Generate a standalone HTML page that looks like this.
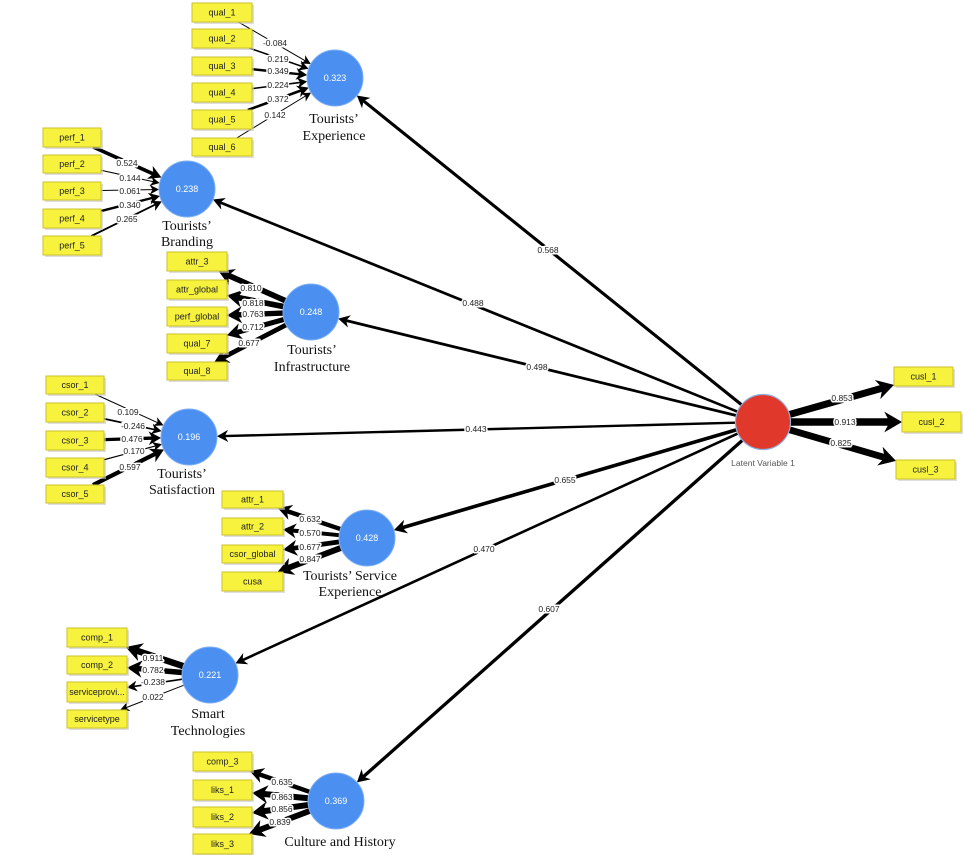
<!DOCTYPE html>
<html>
<head>
<meta charset="utf-8">
<style>
  html,body{margin:0;padding:0;background:#fff;}
  svg{display:block;}
  .bx{fill:#f6f23e;stroke:#cdc22a;stroke-width:1;}
  .sh{fill:#c8c8c8;opacity:.6;}
  .bt{font-family:"Liberation Sans",sans-serif;font-size:9px;fill:#222;text-anchor:middle;}
  .lb{font-family:"Liberation Sans",sans-serif;font-size:8.5px;fill:#222;text-anchor:middle;paint-order:stroke;stroke:#fff;stroke-width:3px;stroke-linejoin:round;}
  .nt{font-family:"Liberation Serif",serif;font-size:14px;fill:#111;text-anchor:middle;}
  .ct{font-family:"Liberation Sans",sans-serif;font-size:9px;fill:#fff;text-anchor:middle;}
  .blue{fill:#4b8ff0;stroke:#7fb0f5;stroke-width:1;}
</style>
</head>
<body>
<svg id="s" width="963" height="855" viewBox="0 0 963 855" xmlns="http://www.w3.org/2000/svg">
<g id="lines"></g>
<g id="lblbg"></g>

<!-- edge labels -->
<g id="labels">
<text class="lb" x="275" y="46">-0.084</text>
<text class="lb" x="278" y="62">0.219</text>
<text class="lb" x="278" y="74">0.349</text>
<text class="lb" x="278" y="88">0.224</text>
<text class="lb" x="278" y="102">0.372</text>
<text class="lb" x="275" y="118">0.142</text>

<text class="lb" x="127" y="166">0.524</text>
<text class="lb" x="130" y="181">0.144</text>
<text class="lb" x="130" y="194">0.061</text>
<text class="lb" x="130" y="208">0.340</text>
<text class="lb" x="127" y="222">0.265</text>

<text class="lb" x="251" y="291">0.810</text>
<text class="lb" x="253" y="306">0.818</text>
<text class="lb" x="253" y="317">0.763</text>
<text class="lb" x="253" y="330">0.712</text>
<text class="lb" x="249" y="346">0.677</text>

<text class="lb" x="128" y="415">0.109</text>
<text class="lb" x="133" y="429">-0.246</text>
<text class="lb" x="132" y="442">0.476</text>
<text class="lb" x="134" y="454">0.170</text>
<text class="lb" x="130" y="470">0.597</text>

<text class="lb" x="310" y="522">0.632</text>
<text class="lb" x="310" y="536">0.570</text>
<text class="lb" x="310" y="550">0.677</text>
<text class="lb" x="310" y="562">0.847</text>

<text class="lb" x="153" y="661">0.911</text>
<text class="lb" x="153" y="673">0.782</text>
<text class="lb" x="153" y="685">-0.238</text>
<text class="lb" x="153" y="700">0.022</text>

<text class="lb" x="282" y="785">0.635</text>
<text class="lb" x="282" y="800">0.863</text>
<text class="lb" x="282" y="812">0.856</text>
<text class="lb" x="280" y="825">0.839</text>

<text class="lb" x="842" y="401">0.853</text>
<text class="lb" x="845" y="425">0.913</text>
<text class="lb" x="841" y="446">0.825</text>

<text class="lb" x="548" y="253">0.568</text>
<text class="lb" x="473" y="306">0.488</text>
<text class="lb" x="537" y="370">0.498</text>
<text class="lb" x="476" y="432">0.443</text>
<text class="lb" x="565" y="483">0.655</text>
<text class="lb" x="484" y="552">0.470</text>
<text class="lb" x="549" y="612">0.607</text>
</g>

<!-- circles -->
<g>
<circle class="blue" cx="335" cy="78" r="28"/><text class="ct" x="335" y="81">0.323</text>
<circle class="blue" cx="187" cy="189" r="28"/><text class="ct" x="187" y="192">0.238</text>
<circle class="blue" cx="311" cy="312" r="28"/><text class="ct" x="311" y="315">0.248</text>
<circle class="blue" cx="189" cy="437" r="28"/><text class="ct" x="189" y="440">0.196</text>
<circle class="blue" cx="367" cy="538" r="28"/><text class="ct" x="367" y="541">0.428</text>
<circle class="blue" cx="210" cy="675" r="28"/><text class="ct" x="210" y="678">0.221</text>
<circle class="blue" cx="336" cy="801" r="28"/><text class="ct" x="336" y="804">0.369</text>
<circle cx="763" cy="422" r="27.5" fill="#e0382b" stroke="#8fb0dc" stroke-width="1.2"/>
<text x="763" y="466" font-family="Liberation Sans, sans-serif" font-size="8.5" fill="#555" text-anchor="middle">Latent Variable 1</text>
</g>

<!-- node names -->
<g>
<text class="nt" x="334" y="123">Tourists’</text>
<text class="nt" x="334" y="140">Experience</text>
<text class="nt" x="187" y="230">Tourists’</text>
<text class="nt" x="187" y="246">Branding</text>
<text class="nt" x="312" y="354">Tourists’</text>
<text class="nt" x="312" y="371">Infrastructure</text>
<text class="nt" x="182" y="478">Tourists’</text>
<text class="nt" x="182" y="494">Satisfaction</text>
<text class="nt" x="350" y="580">Tourists’ Service</text>
<text class="nt" x="350" y="596">Experience</text>
<text class="nt" x="208" y="718">Smart</text>
<text class="nt" x="208" y="735">Technologies</text>
<text class="nt" x="340" y="846">Culture and History</text>
</g>

<!-- boxes -->
<g>
<rect class="sh" x="194" y="5" width="60" height="19"/><rect class="bx" x="192" y="3" width="60" height="19"/><text class="bt" x="222" y="15.5">qual_1</text>
<rect class="sh" x="194" y="31" width="60" height="19"/><rect class="bx" x="192" y="29" width="60" height="19"/><text class="bt" x="222" y="41.5">qual_2</text>
<rect class="sh" x="194" y="59" width="60" height="18"/><rect class="bx" x="192" y="57" width="60" height="18"/><text class="bt" x="222" y="69">qual_3</text>
<rect class="sh" x="194" y="85" width="60" height="19"/><rect class="bx" x="192" y="83" width="60" height="19"/><text class="bt" x="222" y="95.5">qual_4</text>
<rect class="sh" x="194" y="112" width="60" height="19"/><rect class="bx" x="192" y="110" width="60" height="19"/><text class="bt" x="222" y="122.5">qual_5</text>
<rect class="sh" x="194" y="140" width="60" height="18"/><rect class="bx" x="192" y="138" width="60" height="18"/><text class="bt" x="222" y="150">qual_6</text>

<rect class="sh" x="45" y="130" width="58" height="19"/><rect class="bx" x="43" y="128" width="58" height="19"/><text class="bt" x="72" y="140.5">perf_1</text>
<rect class="sh" x="45" y="157" width="58" height="18"/><rect class="bx" x="43" y="155" width="58" height="18"/><text class="bt" x="72" y="167">perf_2</text>
<rect class="sh" x="45" y="184" width="58" height="18"/><rect class="bx" x="43" y="182" width="58" height="18"/><text class="bt" x="72" y="194">perf_3</text>
<rect class="sh" x="45" y="211" width="58" height="19"/><rect class="bx" x="43" y="209" width="58" height="19"/><text class="bt" x="72" y="221.5">perf_4</text>
<rect class="sh" x="45" y="238" width="58" height="19"/><rect class="bx" x="43" y="236" width="58" height="19"/><text class="bt" x="72" y="248.5">perf_5</text>

<rect class="sh" x="169" y="254" width="60" height="19"/><rect class="bx" x="167" y="252" width="60" height="19"/><text class="bt" x="197" y="264.5">attr_3</text>
<rect class="sh" x="169" y="282" width="60" height="19"/><rect class="bx" x="167" y="280" width="60" height="19"/><text class="bt" x="197" y="292.5">attr_global</text>
<rect class="sh" x="169" y="309" width="60" height="19"/><rect class="bx" x="167" y="307" width="60" height="19"/><text class="bt" x="197" y="319.5">perf_global</text>
<rect class="sh" x="169" y="336" width="60" height="19"/><rect class="bx" x="167" y="334" width="60" height="19"/><text class="bt" x="197" y="346.5">qual_7</text>
<rect class="sh" x="169" y="364" width="60" height="18"/><rect class="bx" x="167" y="362" width="60" height="18"/><text class="bt" x="197" y="374">qual_8</text>

<rect class="sh" x="48" y="378" width="58" height="18"/><rect class="bx" x="46" y="376" width="58" height="18"/><text class="bt" x="75" y="388">csor_1</text>
<rect class="sh" x="48" y="405" width="58" height="19"/><rect class="bx" x="46" y="403" width="58" height="19"/><text class="bt" x="75" y="415.5">csor_2</text>
<rect class="sh" x="48" y="433" width="58" height="19"/><rect class="bx" x="46" y="431" width="58" height="19"/><text class="bt" x="75" y="443.5">csor_3</text>
<rect class="sh" x="48" y="460" width="58" height="19"/><rect class="bx" x="46" y="458" width="58" height="19"/><text class="bt" x="75" y="470.5">csor_4</text>
<rect class="sh" x="48" y="487" width="58" height="18"/><rect class="bx" x="46" y="485" width="58" height="18"/><text class="bt" x="75" y="497">csor_5</text>

<rect class="sh" x="224" y="493" width="61" height="17"/><rect class="bx" x="222" y="491" width="61" height="17"/><text class="bt" x="252.5" y="502.5">attr_1</text>
<rect class="sh" x="224" y="520" width="61" height="17"/><rect class="bx" x="222" y="518" width="61" height="17"/><text class="bt" x="252.5" y="529.5">attr_2</text>
<rect class="sh" x="224" y="547" width="61" height="18"/><rect class="bx" x="222" y="545" width="61" height="18"/><text class="bt" x="252.5" y="557">csor_global</text>
<rect class="sh" x="224" y="574" width="61" height="19"/><rect class="bx" x="222" y="572" width="61" height="19"/><text class="bt" x="252.5" y="584.5">cusa</text>

<rect class="sh" x="69" y="630" width="60" height="19"/><rect class="bx" x="67" y="628" width="60" height="19"/><text class="bt" x="97" y="640.5">comp_1</text>
<rect class="sh" x="69" y="658" width="60" height="18"/><rect class="bx" x="67" y="656" width="60" height="18"/><text class="bt" x="97" y="668">comp_2</text>
<rect class="sh" x="69" y="684" width="60" height="20"/><rect class="bx" x="67" y="682" width="60" height="20"/><text class="bt" x="97" y="695" font-size="8.5">serviceprovi...</text>
<rect class="sh" x="69" y="712" width="60" height="18"/><rect class="bx" x="67" y="710" width="60" height="18"/><text class="bt" x="97" y="722">servicetype</text>

<rect class="sh" x="195" y="754" width="59" height="19"/><rect class="bx" x="193" y="752" width="59" height="19"/><text class="bt" x="222.5" y="764.5">comp_3</text>
<rect class="sh" x="195" y="782" width="59" height="20"/><rect class="bx" x="193" y="780" width="59" height="20"/><text class="bt" x="222.5" y="793">liks_1</text>
<rect class="sh" x="195" y="809" width="59" height="20"/><rect class="bx" x="193" y="807" width="59" height="20"/><text class="bt" x="222.5" y="820">liks_2</text>
<rect class="sh" x="195" y="836" width="59" height="20"/><rect class="bx" x="193" y="834" width="59" height="20"/><text class="bt" x="222.5" y="847">liks_3</text>

<rect class="sh" x="896" y="369" width="59" height="19"/><rect class="bx" x="894" y="367" width="59" height="19"/><text class="bt" x="923.5" y="379.5">cusl_1</text>
<rect class="sh" x="904" y="414" width="59" height="20"/><rect class="bx" x="902" y="412" width="59" height="20"/><text class="bt" x="931.5" y="425">cusl_2</text>
<rect class="sh" x="898" y="462" width="59" height="19"/><rect class="bx" x="896" y="460" width="59" height="19"/><text class="bt" x="925.5" y="472.5">cusl_3</text>
</g>
</svg>

<script>
(function(){
var NS="http://www.w3.org/2000/svg";
var g=document.getElementById("lines");
var C={E:[335,78],B:[187,189],I:[311,312],S:[189,437],SE:[367,538],ST:[210,675],C:[336,801],R:[763,422]};
function rad(k){return k==="R"?27.5:28;}
var boxes=[
[192,3,60,19,'E',-0.084,1],[192,29,60,19,'E',0.219,1],[192,57,60,18,'E',0.349,1],
[192,83,60,19,'E',0.224,1],[192,110,60,19,'E',0.372,1],[192,138,60,18,'E',0.142,1],
[43,128,58,19,'B',0.524,1],[43,155,58,18,'B',0.144,1],[43,182,58,18,'B',0.061,1],
[43,209,58,19,'B',0.340,1],[43,236,58,19,'B',0.265,1],
[167,252,60,19,'I',0.810,0],[167,280,60,19,'I',0.818,0],[167,307,60,19,'I',0.763,0],
[167,334,60,19,'I',0.712,0],[167,362,60,18,'I',0.677,0],
[46,376,58,18,'S',0.109,1],[46,403,58,19,'S',-0.246,1],[46,431,58,19,'S',0.476,1],
[46,458,58,19,'S',0.170,1],[46,485,58,18,'S',0.597,1],
[222,491,61,17,'SE',0.632,0],[222,518,61,17,'SE',0.570,0],[222,545,61,18,'SE',0.677,0],[222,572,61,19,'SE',0.847,0],
[67,628,60,19,'ST',0.911,0],[67,656,60,18,'ST',0.782,0],[67,682,60,20,'ST',-0.238,0],[67,710,60,18,'ST',0.022,0],
[193,752,59,19,'C',0.635,0],[193,780,59,20,'C',0.863,0],[193,807,59,20,'C',0.856,0],[193,834,59,20,'C',0.839,0],
[894,367,59,19,'R',0.853,0],[902,412,59,20,'R',0.913,0],[896,460,59,19,'R',0.825,0]
];
var structural=[['E',0.568],['B',0.488],['I',0.498],['S',0.443],['SE',0.655],['ST',0.470],['C',0.607]];
function wid(v,k){return Math.max(1,Math.abs(v)*k);}
function circEdge(c,r,t){var dx=t[0]-c[0],dy=t[1]-c[1],l=Math.hypot(dx,dy);return [c[0]+dx/l*r,c[1]+dy/l*r];}
function boxEdge(cx,cy,hw,hh,t){var dx=t[0]-cx,dy=t[1]-cy;var a=dx?hw/Math.abs(dx):1e9,b=dy?hh/Math.abs(dy):1e9;var s=Math.min(a,b);return [cx+dx*s,cy+dy*s];}
function arrow(p1,p2,w){
  var dx=p2[0]-p1[0],dy=p2[1]-p1[1],l=Math.hypot(dx,dy),ux=dx/l,uy=dy/l,nx=-uy,ny=ux;
  var L=8+1.3*w,H=4+0.85*w,N=L*0.3;
  var ex=p2[0]-ux*(L*0.6),ey=p2[1]-uy*(L*0.6);
  var ln=document.createElementNS(NS,"line");
  ln.setAttribute("x1",p1[0]);ln.setAttribute("y1",p1[1]);
  ln.setAttribute("x2",ex);ln.setAttribute("y2",ey);
  ln.setAttribute("stroke","#000");ln.setAttribute("stroke-width",w);
  g.appendChild(ln);
  var bx=p2[0]-ux*L,by=p2[1]-uy*L;
  var pts=[[p2[0],p2[1]],[bx+nx*H,by+ny*H],[p2[0]-ux*(L-N),p2[1]-uy*(L-N)],[bx-nx*H,by-ny*H]];
  var pg=document.createElementNS(NS,"polygon");
  pg.setAttribute("points",pts.map(function(p){return p[0].toFixed(2)+","+p[1].toFixed(2);}).join(" "));
  pg.setAttribute("fill","#000");
  g.appendChild(pg);
}
boxes.forEach(function(b){
  var cx=b[0]+b[2]/2,cy=b[1]+b[3]/2,c=C[b[4]],r=rad(b[4]);
  var w=wid(b[5], b[4]==='R'?8.2:7);
  var ce=circEdge(c,r,[cx,cy]);
  var be=boxEdge(cx,cy,b[2]/2,b[3]/2,c);
  if(b[6]===1){arrow(be,ce,w);}else{arrow(ce,be,w);}
});
structural.forEach(function(s){
  var c=C[s[0]],R=C.R;
  var p1=circEdge(R,27.5,c),p2=circEdge(c,28,R);
  arrow(p1,p2,wid(s[1],5.5));
});
// white backgrounds behind labels
var bg=document.getElementById("lblbg");
var ts=document.getElementById("labels").getElementsByTagName("text");
for(var i=0;i<ts.length;i++){
  try{
    var bb=ts[i].getBBox();
    var r=document.createElementNS(NS,"rect");
    r.setAttribute("x",bb.x+0.5);r.setAttribute("y",bb.y+1);
    r.setAttribute("width",bb.width-1);r.setAttribute("height",bb.height-1.5);
    r.setAttribute("fill","#fff");
    bg.appendChild(r);
  }catch(e){}
}
})();
</script>
</body>
</html>
